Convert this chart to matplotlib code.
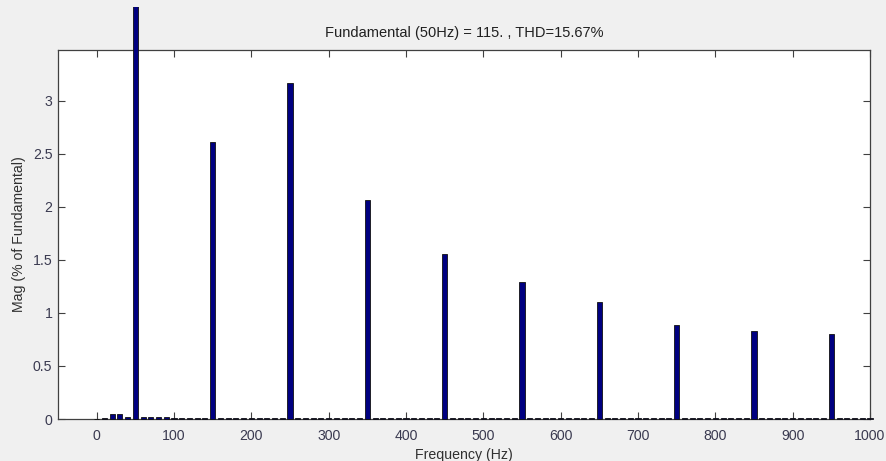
import matplotlib
matplotlib.use("Agg")
import matplotlib.pyplot as plt
from matplotlib.transforms import Bbox, TransformedBbox

# Frequency bins (Hz), 10 Hz resolution
freqs = list(range(0, 1010, 10))
# Magnitude (% of fundamental) per bin
mags = [
    0.0, 0.012, 0.05, 0.05, 0.02, 100.0, 0.02, 0.02, 0.02, 0.015,   # 0-90
    0.012, 0.012, 0.012, 0.012, 0.012, 2.61, 0.012, 0.012, 0.012, 0.012,  # 100-190
    0.012, 0.012, 0.012, 0.012, 0.012, 3.17, 0.012, 0.012, 0.012, 0.012,  # 200-290
    0.012, 0.012, 0.012, 0.012, 0.012, 2.07, 0.012, 0.012, 0.012, 0.012,  # 300-390
    0.012, 0.012, 0.012, 0.012, 0.012, 1.56, 0.012, 0.012, 0.012, 0.012,  # 400-490
    0.012, 0.012, 0.012, 0.012, 0.012, 1.29, 0.012, 0.012, 0.012, 0.012,  # 500-590
    0.012, 0.012, 0.012, 0.012, 0.012, 1.10, 0.012, 0.012, 0.012, 0.012,  # 600-690
    0.012, 0.012, 0.012, 0.012, 0.012, 0.89, 0.012, 0.012, 0.012, 0.012,  # 700-790
    0.012, 0.012, 0.012, 0.012, 0.012, 0.83, 0.012, 0.012, 0.012, 0.012,  # 800-890
    0.012, 0.012, 0.012, 0.012, 0.012, 0.80, 0.012, 0.012, 0.012, 0.012,  # 900-990
    0.012,  # 1000
]
xticks = [0, 100, 200, 300, 400, 500, 600, 700, 800, 900, 1000]
yticks = [0, 0.5, 1, 1.5, 2, 2.5, 3]
ytick_labels = ["0", "0.5", "1", "1.5", "2", "2.5", "3"]
title = "Fundamental (50Hz) = 115. , THD=15.67%"

plt.rcParams['font.family'] = ['Liberation Sans', 'DejaVu Sans']

W, H = 887, 461
fig = plt.figure(figsize=(W / 100, H / 100), dpi=100, facecolor='#f0f0f0')
ax = fig.add_axes([58 / W, (H - 419) / H, (870 - 58) / W, (419 - 50) / H])
ax.set_facecolor('white')

bars = ax.bar(freqs, mags, width=6.5, color='#000080', edgecolor='#101010',
              linewidth=0.6, zorder=3)
clipbox = TransformedBbox(Bbox([[0, 0], [1, 1 - 7 / H]]), fig.transFigure)
for b in bars:
    b.set_clip_on(True)
    b.set_clip_box(clipbox)

ax.set_xlim(-50, 1000)
ax.set_ylim(0, 3.48)
ax.set_xticks(xticks)
ax.set_xticklabels([str(t) for t in xticks])
ax.set_yticks(yticks)
ax.set_yticklabels(ytick_labels)

tick_color = '#3a3a50'
ax.tick_params(direction='in', length=5, width=0.8, colors='#404040',
               labelcolor=tick_color, labelsize=10.2, top=True, right=True, pad=4)
ax.tick_params(axis='x', pad=7)
for s in ax.spines.values():
    s.set_color('#404040')
    s.set_linewidth(0.9)

ax.set_xlabel('Frequency (Hz)', fontsize=10.2, color='#303030', labelpad=4)
ax.set_ylabel('Mag (% of Fundamental)', fontsize=10.2, color='#303030', labelpad=5)
ax.set_title(title, fontsize=10.5, color='#202020', pad=9)

fig.savefig('out.png', dpi=100, facecolor=fig.get_facecolor())
